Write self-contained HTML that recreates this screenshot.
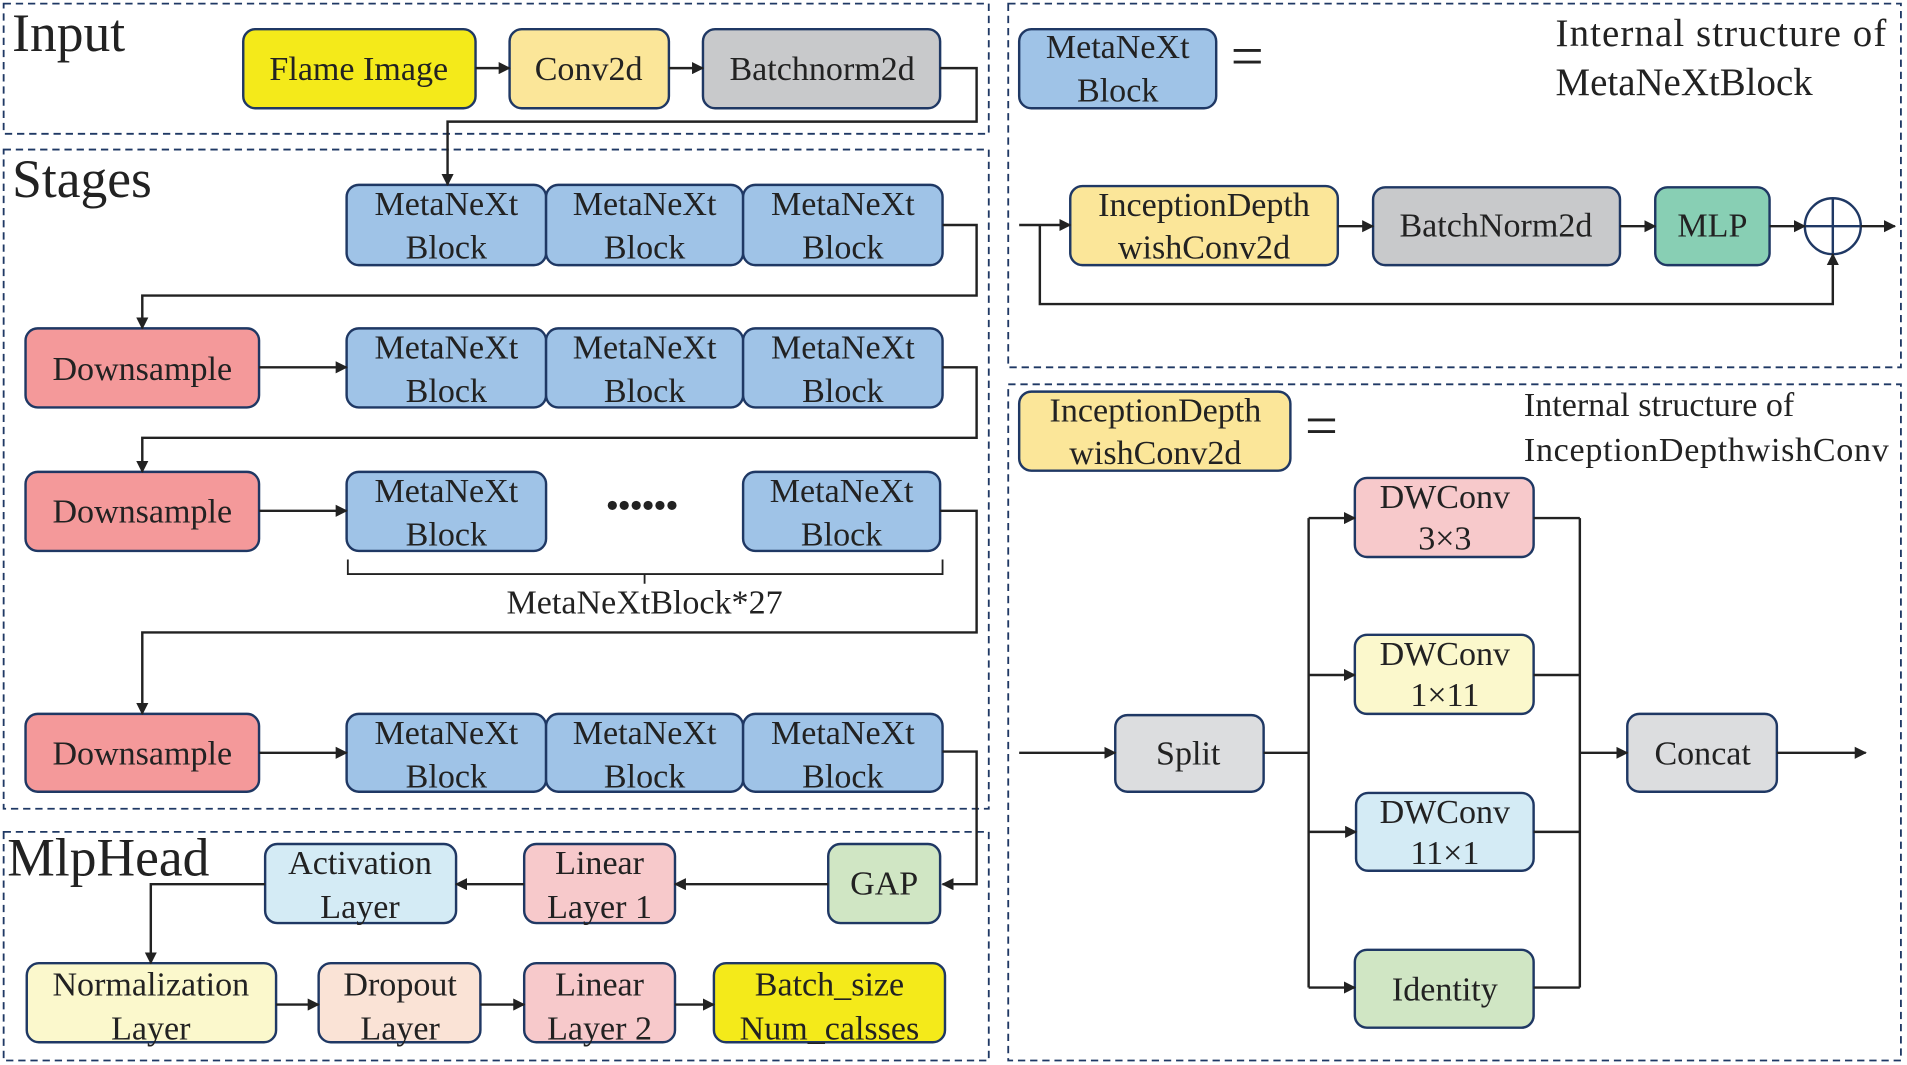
<!DOCTYPE html>
<html><head><meta charset="utf-8"><style>
html,body{margin:0;padding:0;background:#fff;}
svg{display:block;}
text{font-family:"Liberation Serif",serif;fill:#222;}
</style></head><body>
<svg width="1907" height="1065" viewBox="0 0 1568 875.7" preserveAspectRatio="none" xmlns="http://www.w3.org/2000/svg">
<defs>
<marker id="a" markerWidth="10" markerHeight="10" refX="9" refY="5" orient="auto" markerUnits="userSpaceOnUse"><path d="M0,0 L10,5 L0,10 z" fill="#222"/></marker>
</defs>
<g fill="none" stroke="#1f3864" stroke-width="1.5" stroke-dasharray="6,4">
<rect x="3" y="3" width="810" height="107"/>
<rect x="3" y="123" width="810" height="542"/>
<rect x="3" y="684" width="810" height="188"/>
<rect x="829" y="3" width="734" height="299"/>
<rect x="829" y="316" width="734" height="556"/>
</g>
<g font-size="44">
<text x="10" y="42">Input</text>
<text x="10" y="162">Stages</text>
<text x="6" y="720">MlpHead</text>
</g>
<g stroke="#1f3864" stroke-width="2">
<rect x="200" y="24" width="191" height="65" rx="10" fill="#f4ea1a"/>
<rect x="419" y="24" width="131" height="65" rx="10" fill="#fbe699"/>
<rect x="578" y="24" width="195" height="65" rx="10" fill="#c8c9cb"/>
<g fill="#9fc3e7">
<rect x="285" y="152" width="164" height="66" rx="10"/><rect x="449" y="152" width="162" height="66" rx="10"/><rect x="611" y="152" width="164" height="66" rx="10"/>
<rect x="285" y="270" width="164" height="65" rx="10"/><rect x="449" y="270" width="162" height="65" rx="10"/><rect x="611" y="270" width="164" height="65" rx="10"/>
<rect x="285" y="388" width="164" height="65" rx="10"/><rect x="611" y="388" width="162" height="65" rx="10"/>
<rect x="285" y="587" width="164" height="64" rx="10"/><rect x="449" y="587" width="162" height="64" rx="10"/><rect x="611" y="587" width="164" height="64" rx="10"/>
<rect x="838" y="24" width="162" height="65" rx="10"/>
</g>
<g fill="#f4999a">
<rect x="21" y="270" width="192" height="65" rx="10"/><rect x="21" y="388" width="192" height="65" rx="10"/><rect x="21" y="587" width="192" height="64" rx="10"/>
</g>
<rect x="681" y="694" width="92" height="65" rx="10" fill="#d0e6c4"/>
<rect x="431" y="694" width="124" height="65" rx="10" fill="#f7c9cb"/>
<rect x="218" y="694" width="157" height="65" rx="10" fill="#d4ebf5"/>
<rect x="22" y="792" width="205" height="65" rx="10" fill="#fbf8cc"/>
<rect x="262" y="792" width="133" height="65" rx="10" fill="#fae3d6"/>
<rect x="431" y="792" width="124" height="65" rx="10" fill="#f7c9cb"/>
<rect x="587" y="792" width="190" height="65" rx="10" fill="#f4ea1a"/>
<rect x="880" y="153" width="220" height="65" rx="10" fill="#fbe699"/>
<rect x="1129" y="154" width="203" height="64" rx="10" fill="#c8c9cb"/>
<rect x="1361" y="154" width="94" height="64" rx="10" fill="#88cfb4"/>
<circle cx="1507" cy="186" r="23" fill="#fff"/>
<line x1="1484" y1="186" x2="1530" y2="186"/><line x1="1507" y1="163" x2="1507" y2="209"/>
<rect x="838" y="322" width="223" height="65" rx="10" fill="#fbe699"/>
<rect x="917" y="588" width="122" height="63" rx="10" fill="#dcdddf"/>
<rect x="1114" y="393" width="147" height="65" rx="10" fill="#f7c9cb"/>
<rect x="1114" y="522" width="147" height="65" rx="10" fill="#fbf8cc"/>
<rect x="1115" y="652" width="146" height="64" rx="10" fill="#d4ebf5"/>
<rect x="1114" y="781" width="147" height="64" rx="10" fill="#d0e6c4"/>
<rect x="1338" y="587" width="123" height="64" rx="10" fill="#dcdddf"/>
</g>
<g fill="none" stroke="#222" stroke-width="2">
<path d="M391,56 H419" marker-end="url(#a)"/>
<path d="M550,56 H578" marker-end="url(#a)"/>
<path d="M773,56 H803 V100 H368 V152" marker-end="url(#a)"/>
<path d="M775,185 H803 V243 H117 V270" marker-end="url(#a)"/>
<path d="M213,302 H285" marker-end="url(#a)"/>
<path d="M775,302 H803 V360 H117 V388" marker-end="url(#a)"/>
<path d="M213,420 H285" marker-end="url(#a)"/>
<path d="M773,420 H803 V520 H117 V587" marker-end="url(#a)"/>
<path d="M213,619 H285" marker-end="url(#a)"/>
<path d="M775,618 H803 V727 H775" marker-end="url(#a)"/>
<path d="M681,727 H555" marker-end="url(#a)"/>
<path d="M431,727 H375" marker-end="url(#a)"/>
<path d="M218,727 H124 V792" marker-end="url(#a)"/>
<path d="M227,826 H262" marker-end="url(#a)"/>
<path d="M395,826 H431" marker-end="url(#a)"/>
<path d="M555,826 H587" marker-end="url(#a)"/>
<path d="M286,460 V472 H775 V460 M530,472 V480" stroke-width="1.5"/>
<path d="M838,185 H880" marker-end="url(#a)"/>
<path d="M1100,186 H1129" marker-end="url(#a)"/>
<path d="M1332,186 H1361" marker-end="url(#a)"/>
<path d="M1455,186 H1484" marker-end="url(#a)"/>
<path d="M1530,186 H1558" marker-end="url(#a)"/>
<path d="M855,185 V250 H1507 V209" marker-end="url(#a)"/>
<path d="M838,619 H917" marker-end="url(#a)"/>
<path d="M1039,619 H1076 M1076,426 V812"/>
<path d="M1076,426 H1114" marker-end="url(#a)"/>
<path d="M1076,555 H1114" marker-end="url(#a)"/>
<path d="M1076,684 H1115" marker-end="url(#a)"/>
<path d="M1076,812 H1114" marker-end="url(#a)"/>
<path d="M1261,426 H1299 M1261,555 H1299 M1261,684 H1299 M1261,812 H1299 M1299,426 V812"/>
<path d="M1299,619 H1338" marker-end="url(#a)"/>
<path d="M1461,619 H1534" marker-end="url(#a)"/>
</g>
<g font-size="28" text-anchor="middle" dominant-baseline="central">
<text x="295" y="57">Flame Image</text>
<text x="484" y="57">Conv2d</text>
<text x="676" y="57">Batchnorm2d</text>
<text x="367" y="168">MetaNeXt</text><text x="367" y="204">Block</text>
<text x="530" y="168">MetaNeXt</text><text x="530" y="204">Block</text>
<text x="693" y="168">MetaNeXt</text><text x="693" y="204">Block</text>
<text x="367" y="286">MetaNeXt</text><text x="367" y="322">Block</text>
<text x="530" y="286">MetaNeXt</text><text x="530" y="322">Block</text>
<text x="693" y="286">MetaNeXt</text><text x="693" y="322">Block</text>
<text x="367" y="404">MetaNeXt</text><text x="367" y="440">Block</text>
<text x="528" y="416" font-weight="bold">••••••</text>
<text x="692" y="404">MetaNeXt</text><text x="692" y="440">Block</text>
<text x="530" y="496">MetaNeXtBlock*27</text>
<text x="367" y="603">MetaNeXt</text><text x="367" y="639">Block</text>
<text x="530" y="603">MetaNeXt</text><text x="530" y="639">Block</text>
<text x="693" y="603">MetaNeXt</text><text x="693" y="639">Block</text>
<text x="117" y="304">Downsample</text>
<text x="117" y="421">Downsample</text>
<text x="117" y="620">Downsample</text>
<text x="727" y="727">GAP</text>
<text x="493" y="710">Linear</text><text x="493" y="746">Layer 1</text>
<text x="296" y="710">Activation</text><text x="296" y="746">Layer</text>
<text x="124" y="810">Normalization</text><text x="124" y="846">Layer</text>
<text x="329" y="810">Dropout</text><text x="329" y="846">Layer</text>
<text x="493" y="810">Linear</text><text x="493" y="846">Layer 2</text>
<text x="682" y="810">Batch_size</text><text x="682" y="846">Num_calsses</text>
<text x="919" y="39">MetaNeXt</text><text x="919" y="75">Block</text>
<text x="990" y="169">InceptionDepth</text><text x="990" y="204">wishConv2d</text>
<text x="1230" y="186">BatchNorm2d</text>
<text x="1408" y="186">MLP</text>
<text x="950" y="338">InceptionDepth</text><text x="950" y="373">wishConv2d</text>
<text x="977" y="620">Split</text>
<text x="1188" y="409">DWConv</text><text x="1188" y="443">3×3</text>
<text x="1188" y="538">DWConv</text><text x="1188" y="572">1×11</text>
<text x="1188" y="668">DWConv</text><text x="1188" y="702">11×1</text>
<text x="1188" y="814">Identity</text>
<text x="1400" y="620">Concat</text>
</g>
<g font-size="32">
<text x="1012" y="62" font-size="48">=</text>
<text x="1073" y="366" font-size="48">=</text>
<text x="1279" y="38" textLength="272">Internal structure of</text>
<text x="1279" y="78">MetaNeXtBlock</text>
<text x="1253" y="342" font-size="28">Internal structure of</text>
<text x="1253" y="379" font-size="28" textLength="300">InceptionDepthwishConv</text>
</g>
</svg>
</body></html>
